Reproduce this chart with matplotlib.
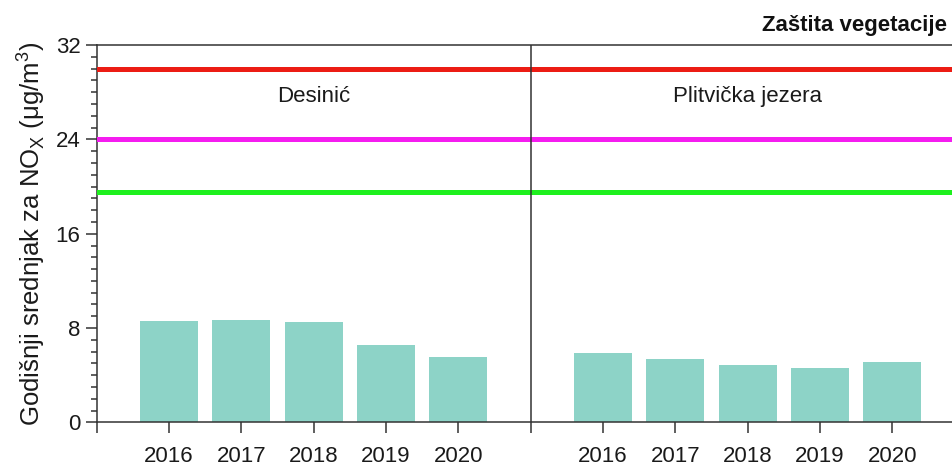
import matplotlib
matplotlib.use('Agg')
from matplotlib import pyplot as plt
from matplotlib.ticker import MultipleLocator
import numpy as np

plt.rcParams['font.family'] = ['Liberation Sans', 'DejaVu Sans']

years = ['2016', '2017', '2018', '2019', '2020']
stations = ['Desinić', 'Plitvička jezera']
desinic = [8.6, 8.65, 8.5, 6.6, 5.55]
plitvice = [5.9, 5.4, 4.9, 4.6, 5.1]

# limit values for vegetation protection
limit_values = [30, 24, 19.5]
limit_colors = ['#ec1c14', '#f51cf0', '#1ef01e']

bar_color = '#8dd3c7'
spine_color = '#333333'

fig = plt.figure(figsize=(9.52, 4.68), dpi=100)
ax = fig.add_axes([0.1016, 0.0976, 0.9118, 0.806])

n = len(years)
panel = n + 1
for i, values in enumerate([desinic, plitvice]):
    x = np.arange(1, n + 1) + i * panel
    ax.bar(x, values, width=0.8, color=bar_color, zorder=2)
    ax.text(i * panel + panel / 2, 27.6, stations[i], ha='center', va='center',
            fontsize=16, color='#1a1a1a')

for value, color in zip(limit_values, limit_colors):
    ax.axhline(value, color=color, linewidth=3.6, zorder=3)

# divider between the two stations
ax.axvline(panel, color=spine_color, linewidth=1.1, zorder=4)

ax.set_xlim(0, 2 * panel)
ax.set_ylim(0, 32)

ax.yaxis.set_major_locator(MultipleLocator(8))
ax.yaxis.set_minor_locator(MultipleLocator(1))
ax.tick_params(axis='y', which='major', length=7.7, width=1.1, labelsize=16,
               pad=4, colors=spine_color, labelcolor='#1a1a1a')
ax.tick_params(axis='y', which='minor', length=4.3, width=1.1, colors=spine_color)

ticks = [0] + list(range(1, n + 1)) + [panel] + list(range(panel + 1, panel + n + 1)) + [2 * panel]
labels = [''] + years + [''] + years + ['']
ax.set_xticks(ticks)
ax.set_xticklabels(labels)
ax.tick_params(axis='x', length=8, width=1.1, labelsize=16, pad=9,
               colors=spine_color, labelcolor='#1a1a1a')

for spine in ax.spines.values():
    spine.set_color(spine_color)
    spine.set_linewidth(1.1)

ax.set_ylabel('Godišnji srednjak za NO$_\\mathregular{X}$ ($\\mathregular{\\mu}$g/m$^\\mathregular{3}$)',
              fontsize=18.5, color='#1a1a1a', labelpad=6)

fig.text(761.7 / 952, 1 - 25 / 468, 'Zaštita vegetacije', ha='left', va='center',
         fontsize=16, fontweight='bold', color='#111111')

fig.savefig('out.png', dpi=100)
